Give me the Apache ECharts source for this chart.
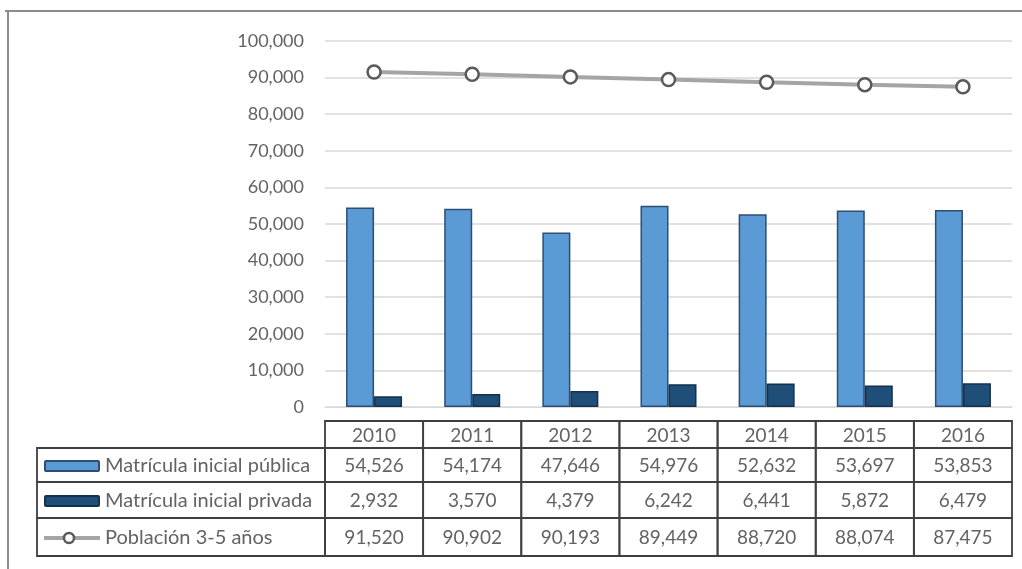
<!DOCTYPE html>
<html>
<head>
<meta charset="utf-8">
<script src="https://cdn.jsdelivr.net/npm/echarts@6/dist/echarts.min.js"></script>
<style>
html,body{margin:0;padding:0;background:#fff;}
#chart{width:1022px;height:569px;}
</style>
</head>
<body>
<div id="chart"></div>
<script>
var years = ['2010','2011','2012','2013','2014','2015','2016'];
var publica = [54526, 54174, 47646, 54976, 52632, 53697, 53853];
var privada = [2932, 3570, 4379, 6242, 6441, 5872, 6479];
var poblacion = [91520, 90902, 90193, 89449, 88720, 88074, 87475];
var seriesNames = ['Matrícula inicial pública', 'Matrícula inicial privada', 'Población 3-5 años'];
var yTicks = [0, 10000, 20000, 30000, 40000, 50000, 60000, 70000, 80000, 90000, 100000];

var FONT = 'Lato, "Open Sans", sans-serif';
var TXT = '#636363';
var C_PUB = '#5b9bd5', C_PUB_B = '#2e4d70';
var C_PRI = '#1f4e79', C_PRI_B = '#15304d';
var C_LINE = '#a5a5a5', C_MK = '#595959';

var gridL = 325, gridR = 1012, gridT = 41, gridB = 407;
var fmt = function(v){ return Number(v).toLocaleString('en-US'); };

var chart = echarts.init(document.getElementById('chart'), null, {renderer:'canvas'});

// table geometry
var colW = (gridR - gridL) / years.length;
var rowY = [421, 448, 482, 518, 556]; // header top, row boundaries
var legL = 37;
var g = [];
var lc = '#3f3f3f', lw = 1.8;
var TF = '19px ' + FONT;
// outer frame
g.push({type:'line', shape:{x1:5,y1:11,x2:1022,y2:11}, style:{stroke:'#8c8c8c', lineWidth:2}});
g.push({type:'line', shape:{x1:8,y1:11,x2:8,y2:569}, style:{stroke:'#8c8c8c', lineWidth:2}});
// header cells
for (var i = 0; i < years.length; i++) {
  var x0 = gridL + i * colW;
  g.push({type:'rect', shape:{x:x0, y:rowY[0], width:colW, height:rowY[1]-rowY[0]}, style:{fill:'none', stroke:lc, lineWidth:lw}});
  g.push({type:'text', x:x0+colW/2, y:(rowY[0]+rowY[1])/2+1, style:{text:years[i], fill:TXT, font:TF, align:'center', verticalAlign:'middle'}});
}
var rows = [publica, privada, poblacion];
for (var r = 0; r < 3; r++) {
  var y0 = rowY[r+1], y1 = rowY[r+2], ym = (y0+y1)/2 + 1;
  g.push({type:'rect', shape:{x:legL, y:y0, width:gridL-legL, height:y1-y0}, style:{fill:'none', stroke:lc, lineWidth:lw}});
  for (var i = 0; i < years.length; i++) {
    var x0 = gridL + i * colW;
    g.push({type:'rect', shape:{x:x0, y:y0, width:colW, height:y1-y0}, style:{fill:'none', stroke:lc, lineWidth:lw}});
    g.push({type:'text', x:x0+colW/2, y:ym, style:{text:fmt(rows[r][i]), fill:TXT, font:TF, align:'center', verticalAlign:'middle'}});
  }
  // legend keys
  if (r === 0) g.push({type:'rect', shape:{x:45, y:ym-5, width:54, height:10, r:1}, style:{fill:C_PUB, stroke:C_PUB_B, lineWidth:2}});
  if (r === 1) g.push({type:'rect', shape:{x:45, y:ym-5, width:54, height:10, r:1}, style:{fill:C_PRI, stroke:C_PRI_B, lineWidth:2}});
  if (r === 2) {
    g.push({type:'line', shape:{x1:44, y1:ym, x2:100, y2:ym}, style:{stroke:C_LINE, lineWidth:4}});
    g.push({type:'circle', shape:{cx:69, cy:ym, r:5}, style:{fill:'#fff', stroke:C_MK, lineWidth:2.5}});
  }
  g.push({type:'text', x:105, y:ym, style:{text:seriesNames[r], fill:TXT, font:'20px ' + FONT, align:'left', verticalAlign:'middle'}});
}

var option = {
  animation: false,
  backgroundColor: '#fff',
  grid: {left: gridL, right: 1022 - gridR, top: gridT, bottom: 569 - gridB, containLabel: false},
  xAxis: {
    type: 'category', data: years,
    axisLine: {show: true, lineStyle: {color: '#d9d9d9', width: 1}},
    axisTick: {show: false}, axisLabel: {show: false}
  },
  yAxis: {
    type: 'value', min: yTicks[0], max: yTicks[yTicks.length-1], interval: yTicks[1]-yTicks[0],
    axisLine: {show: false}, axisTick: {show: false},
    axisLabel: {color: TXT, fontSize: 18, fontFamily: FONT, margin: 21, formatter: fmt},
    splitLine: {lineStyle: {color: '#d9d9d9', width: 1.5}}
  },
  series: [
    {name: seriesNames[0], type: 'bar', data: publica, barWidth: 28, barGap: '0%',
     itemStyle: {color: C_PUB, borderColor: C_PUB_B, borderWidth: 1.5}},
    {name: seriesNames[1], type: 'bar', data: privada, barWidth: 28,
     itemStyle: {color: C_PRI, borderColor: C_PRI_B, borderWidth: 1.5}},
    {name: seriesNames[2], type: 'line', data: poblacion, symbol: 'circle', symbolSize: 13,
     lineStyle: {color: C_LINE, width: 4},
     itemStyle: {color: '#fff', borderColor: C_MK, borderWidth: 2.5}, z: 5}
  ],
  graphic: g
};
chart.setOption(option);
</script>
</body>
</html>
